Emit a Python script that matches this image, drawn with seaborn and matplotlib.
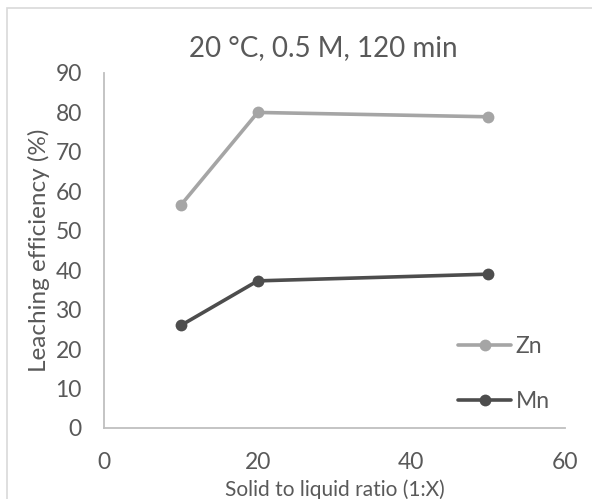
import matplotlib
matplotlib.use("Agg")
import matplotlib.pyplot as plt
import seaborn as sns
import pandas as pd
from matplotlib.patches import Rectangle

# values
ratio = [10, 20, 50]
zn = [56.5, 80.0, 78.9]
mn = [26.0, 37.3, 39.0]
series = ["Zn", "Mn"]

df = pd.DataFrame({
    "ratio": ratio * 2,
    "eff": zn + mn,
    "metal": ["Zn"] * 3 + ["Mn"] * 3,
})

sns.set_style("white")
plt.rcParams["font.family"] = ["Lato", "DejaVu Sans"]
txt = "#595959"

fig = plt.figure(figsize=(5.92, 4.99), dpi=100)
ax = fig.add_axes([104 / 592, 1 - 428 / 499, (565 - 104) / 592, (428 - 73) / 499])

# chart border like Excel
fig.patches.append(Rectangle((7 / 592, -0.1), 1.2, 1 - 8 / 499 + 0.1, transform=fig.transFigure,
                             fill=False, edgecolor="#d9d9d9", linewidth=1.2))

sns.lineplot(data=df, x="ratio", y="eff", hue="metal", hue_order=series,
             palette={"Zn": "#a5a5a5", "Mn": "#4d4d4d"}, marker="o",
             markersize=8.5, markeredgewidth=0, linewidth=2.6, ax=ax)

ax.set_xlim(0, 60)
ax.set_ylim(0, 90)
ax.set_xticks([0, 20, 40, 60])
ax.set_yticks(range(0, 91, 10))
ax.tick_params(axis="both", length=0, labelsize=16.5, colors=txt)
ax.tick_params(axis="y", pad=16)
ax.tick_params(axis="x", pad=17)
for s in ["top", "right"]:
    ax.spines[s].set_visible(False)
for s in ["left", "bottom"]:
    ax.spines[s].set_color("#bfbfbf")
    ax.spines[s].set_linewidth(1.3)

ax.set_xlabel("Solid to liquid ratio (1:X)", fontsize=15, color=txt, labelpad=5)
ax.set_ylabel("Leaching efficiency (%)", fontsize=17.5, color=txt, labelpad=4)
fig.text(323 / 592, 1 - 48 / 499, "20 °C, 0.5 M, 120 min", ha="center", va="center",
         fontsize=20, color=txt)

leg = ax.legend(loc="center left", bbox_to_anchor=(0.724, 0.152), frameon=False,
                fontsize=16.5, labelspacing=1.52, handlelength=2.3, handletextpad=0.2)
for t in leg.get_texts():
    t.set_color(txt)

fig.savefig("out.png", dpi=100)
